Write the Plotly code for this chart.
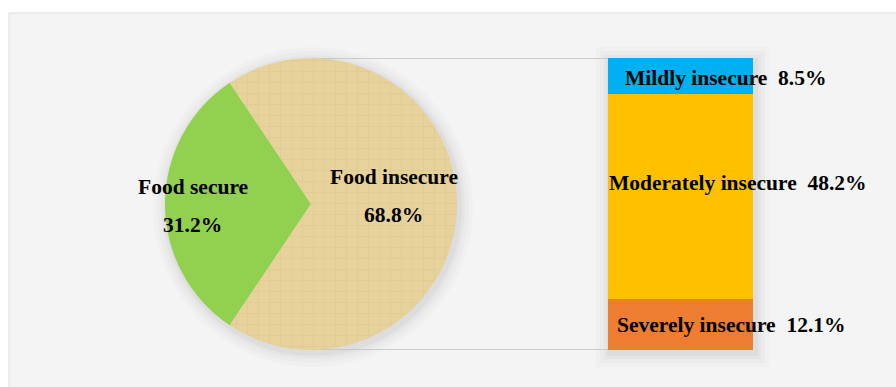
import plotly.graph_objects as go

# ---- data ----
pie_labels = ["Food secure", "Food insecure"]
pie_values = [31.2, 68.8]
pie_colors = ["#92D050", "#E8D29B"]

bar_labels = ["Severely insecure", "Moderately insecure", "Mildly insecure"]
bar_values = [12.1, 48.2, 8.5]
bar_colors = ["#ED7D31", "#FFC000", "#00B0F0"]

W, H = 896, 387
FONT = "Liberation Serif, Times New Roman, serif"

# geometry (pixels)
pie_cx, pie_cy, pie_r = 311, 204, 146
bar_x0, bar_x1 = 608, 753


def px(x):
    return x / W


def py(y):
    return 1 - y / H


pie_dom_x = [px(pie_cx - pie_r), px(pie_cx + pie_r)]
pie_dom_y = [py(pie_cy + pie_r), py(pie_cy - pie_r)]

fig = go.Figure()

# green slice centred on the left side
fig.add_trace(go.Pie(
    labels=pie_labels, values=pie_values, sort=False,
    direction="counterclockwise",
    rotation=-90 - (pie_values[0] / 100 * 360) / 2,
    marker=dict(colors=pie_colors, line=dict(width=0),
                pattern=dict(shape=["", "+"], fgcolor="#CDB67A", bgcolor="#E8D29B",
                             size=11, solidity=0.12, fgopacity=0.3)),
    textinfo="none", hoverinfo="label+percent", showlegend=False,
    domain=dict(x=pie_dom_x, y=pie_dom_y),
))

total = sum(bar_values)
for lab, val, col in zip(bar_labels, bar_values, bar_colors):
    fig.add_trace(go.Bar(
        x=[0], y=[val], name=lab, marker=dict(color=col, line=dict(width=0)),
        showlegend=False, xaxis="x", yaxis="y", width=1,
    ))

fig.update_layout(
    width=W, height=H, margin=dict(l=0, r=0, t=0, b=0),
    paper_bgcolor="white", plot_bgcolor="rgba(0,0,0,0)",
    barmode="stack", bargap=0,
    xaxis=dict(domain=[px(bar_x0), px(bar_x1)], range=[-0.5, 0.5], visible=False, fixedrange=True),
    yaxis=dict(domain=pie_dom_y, range=[0, total], visible=False, fixedrange=True),
    font=dict(family=FONT, color="black"),
)

shapes = []
# frame background
shapes.append(dict(type="rect", xref="paper", yref="paper", x0=px(9), x1=px(905), y0=py(395), y1=py(13),
                   fillcolor="#F4F4F4", line=dict(color="#DDDDDD", width=1), layer="below"))
# soft shadows
for k, a in [(14, 0.015), (10, 0.02), (6, 0.025), (3, 0.03)]:
    shapes.append(dict(type="circle", xref="paper", yref="paper",
                       x0=px(pie_cx - pie_r - k + 2), x1=px(pie_cx + pie_r + k + 2),
                       y0=py(pie_cy + pie_r + k + 3), y1=py(pie_cy - pie_r - k + 3),
                       fillcolor=f"rgba(0,0,0,{a})", line=dict(width=0), layer="below"))
    shapes.append(dict(type="rect", xref="paper", yref="paper",
                       x0=px(bar_x0 - k + 2), x1=px(bar_x1 + k + 2),
                       y0=py(pie_cy + pie_r + k + 3), y1=py(pie_cy - pie_r - k + 3),
                       fillcolor=f"rgba(0,0,0,{a})", line=dict(width=0), layer="below"))
# connector lines
for yy in (total, 0):
    shapes.append(dict(type="line", xref="paper", yref="y", x0=px(pie_cx), x1=px(bar_x0),
                       y0=yy, y1=yy, line=dict(color="#BFBFBF", width=1.5), layer="below"))
fig.update_layout(shapes=shapes)

ann = []
fs = 21.5


def add_text(text, x, y, xanchor="center"):
    ann.append(dict(text=text, x=px(x), y=py(y), xref="paper", yref="paper",
                    xanchor=xanchor, yanchor="middle", showarrow=False, font=dict(size=fs)))


# pie labels
add_text(f"<b>{pie_labels[0]}</b>", 193, 187)
add_text(f"<b>{pie_values[0]}%</b>", 192, 225)
add_text(f"<b>{pie_labels[1]}</b>", 394, 177)
add_text(f"<b>{pie_values[1]}%</b>", 393, 215)
# bar labels
bar_text_x = [615, 607, 623]
bar_text_y = [325, 183, 78]
for lab, val, tx, ty in zip(bar_labels, bar_values, bar_text_x, bar_text_y):
    add_text(f"<b>{lab}&nbsp; {val}%</b>", tx, ty, xanchor="left")
fig.update_layout(annotations=ann)

fig.write_html("out.html")
